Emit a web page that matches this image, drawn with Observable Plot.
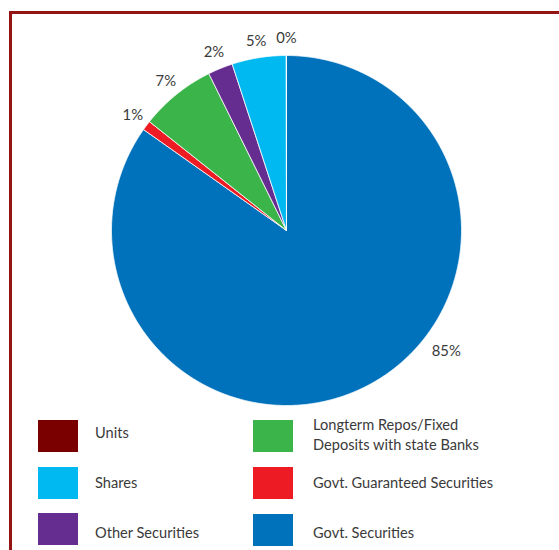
<!DOCTYPE html>
<html><head><meta charset="utf-8">
<script src="https://cdn.jsdelivr.net/npm/d3@7"></script>
<script src="https://cdn.jsdelivr.net/npm/@observablehq/plot@0.6"></script>
<style>
body{margin:0;background:#fff;font-family:Lato,"Open Sans",sans-serif;}
#wrap{position:relative;width:559px;height:550px;overflow:hidden;background:#fff;}
#frame{position:absolute;left:9px;top:11px;width:700px;height:700px;border-left:3px solid #941414;border-top:3px solid #941414;}
#chart{position:absolute;left:0;top:0;}
.sw{position:absolute;width:40px;height:32px;}
.lb{position:absolute;font-size:14.6px;color:#3a3a3a;line-height:20px;transform:translateY(-50%);white-space:nowrap;}
</style></head>
<body><div id="wrap"><div id="frame"></div><div id="chart"></div><div id="legend"></div></div>
<script>
const categories = ["Govt. Securities","Govt. Guaranteed Securities","Longterm Repos/Fixed Deposits with state Banks","Other Securities","Shares","Units"];
const values = [84.8, 0.9, 7.0, 2.3, 5.0, 0.02];
const labels = ["85%","1%","7%","2%","5%","0%"];
const colors = ["#0071BB","#ED1C24","#3BB44A","#662D91","#00B9F1","#7A0000"];
const legendCol1 = ["Units","Shares","Other Securities"];
const legendCol2 = ["Longterm Repos/Fixed Deposits with state Banks","Govt. Guaranteed Securities","Govt. Securities"];

const R = 175, LR = 192;
const arcs = d3.pie().sort(null).value(d => d)(values);
const pts = [];
arcs.forEach((a, i) => {
  pts.push({k: i, x: 0, y: 0});
  const n = Math.max(2, Math.ceil((a.endAngle - a.startAngle) / 0.005));
  for (let j = 0; j <= n; j++) {
    const t = a.startAngle + (a.endAngle - a.startAngle) * j / n;
    pts.push({k: i, x: R * Math.sin(t), y: -R * Math.cos(t)});
  }
  pts.push({k: i, x: 0, y: 0});
});
const big = d3.maxIndex(values);
const lab = arcs.map((a, i) => {
  const m = i === big ? 127 * Math.PI / 180 : (a.startAngle + a.endAngle) / 2;
  const r = i === big ? 200 : LR;
  return {t: labels[i], x: r * Math.sin(m), y: -r * Math.cos(m)};
});

const chart = Plot.plot({
  width: 559, height: 410, margin: 0,
  x: {domain: [-286, 273], range: [0, 559], axis: null},
  y: {domain: [-230, 180], range: [0, 410], axis: null},
  style: {background: "transparent", fontFamily: "Lato, 'Open Sans', sans-serif"},
  marks: [
    Plot.line(pts, {x: "x", y: "y", z: "k", fill: d => colors[d.k], stroke: "white", strokeWidth: 0.8, curve: "linear"}),
    Plot.text(lab, {x: "x", y: "y", text: "t", fontSize: 14.8, fill: "#3a3a3a", textAnchor: "middle", lineAnchor: "middle"})
  ]
});
document.getElementById("chart").appendChild(chart);

const leg = document.getElementById("legend");
function addItem(name, x, tx, sy, ty) {
  const c = colors[categories.indexOf(name)];
  const s = document.createElement("div");
  s.className = "sw"; s.style.left = x + "px"; s.style.top = (sy - 16) + "px"; s.style.background = c;
  leg.appendChild(s);
  const l = document.createElement("div");
  l.className = "lb"; l.style.left = tx + "px"; l.style.top = ty + "px";
  l.innerHTML = name === "Longterm Repos/Fixed Deposits with state Banks" ? "Longterm Repos/Fixed<br>Deposits with state Banks" : name;
  leg.appendChild(l);
}
const swY1 = [436, 483, 529], txY1 = [433, 483, 533];
const swY2 = [436, 483, 530], txY2 = [435, 483, 533];
legendCol1.forEach((n, i) => addItem(n, 38, 95, swY1[i], txY1[i]));
legendCol2.forEach((n, i) => addItem(n, 253, 313, swY2[i], txY2[i]));
</script>
</body></html>
